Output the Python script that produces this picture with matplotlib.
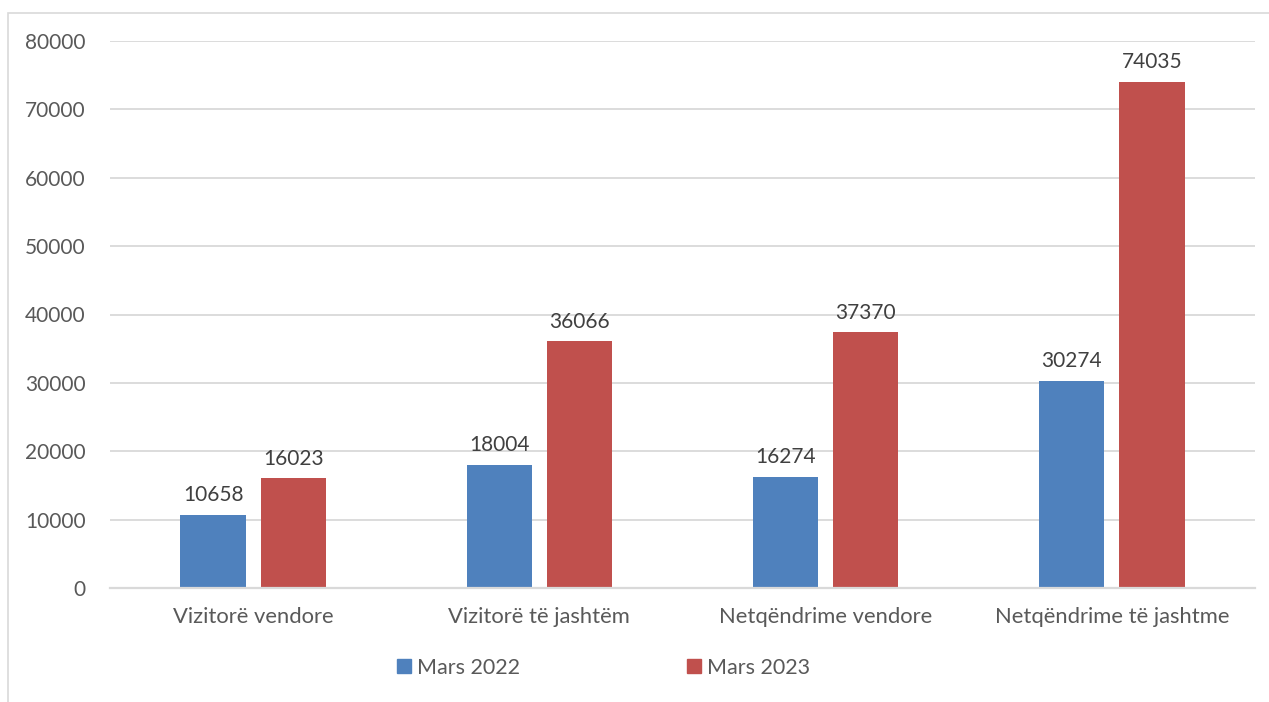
import matplotlib
matplotlib.use("Agg")
import matplotlib.pyplot as plt
from matplotlib.patches import Rectangle
from matplotlib.lines import Line2D
import numpy as np

categories = ["Vizitorë vendore", "Vizitorë të jashtëm", "Netqëndrime vendore", "Netqëndrime të jashtme"]
mars_2022 = [10658, 18004, 16274, 30274]
mars_2023 = [16023, 36066, 37370, 74035]
series_labels = ["Mars 2022", "Mars 2023"]
yticks = [0, 10000, 20000, 30000, 40000, 50000, 60000, 70000, 80000]

blue = "#4F81BD"
red = "#C0504D"
txt = "#595959"
grid = "#D9D9D9"

plt.rcParams['font.family'] = ['Lato', 'DejaVu Sans']

W, H = 1269, 702
fig = plt.figure(figsize=(W / 100, H / 100), dpi=100)
ax = fig.add_axes([110 / W, 1 - 588 / H, (1255 - 110) / W, (588 - 41) / H])

# chart border
fig.patches.append(Rectangle((8 / W, -0.01), 1.0, 1 - 13 / H + 0.01, transform=fig.transFigure,
                             fill=False, edgecolor=grid, linewidth=1.2))

x = np.arange(len(categories))
off = 0.14
w = 0.228
b1 = ax.bar(x - off, mars_2022, w, color=blue, zorder=3)
b2 = ax.bar(x + off, mars_2023, w, color=red, zorder=3)

for bars in (b1, b2):
    for r in bars:
        ax.annotate(f"{int(r.get_height())}", (r.get_x() + r.get_width() / 2, r.get_height()),
                    xytext=(0, 7), textcoords="offset points", ha="center", va="bottom",
                    fontsize=15, color="#404040")

ax.set_xlim(-0.5, 3.5)
ax.set_ylim(0, 80000)
ax.set_yticks(yticks)
ax.set_yticklabels([str(v) for v in yticks])
ax.set_xticks(x)
ax.set_xticklabels(categories)
ax.tick_params(axis='y', length=0, pad=17.5, labelsize=15, labelcolor=txt)
ax.tick_params(axis='x', length=0, pad=14, labelsize=15.8, labelcolor=txt)
ax.yaxis.grid(True, color=grid, linewidth=1.3, zorder=0)
ax.set_axisbelow(True)
for s in ("top", "right", "left"):
    ax.spines[s].set_visible(False)
ax.spines["bottom"].set_color(grid)
ax.spines["bottom"].set_linewidth(1.6)
ax.spines["bottom"].set_zorder(4)

handles = [Line2D([], [], marker='s', linestyle='none', markersize=10, markerfacecolor=c, markeredgecolor=c)
           for c in (blue, red)]
leg = fig.legend(handles, series_labels, loc='center', bbox_to_anchor=(0.474, 1 - 668 / H), ncol=2,
                 frameon=False, fontsize=15.5, labelcolor=txt, columnspacing=7.6, handletextpad=0.1,
                 handlelength=1.0)

fig.savefig("out.png", dpi=100)
